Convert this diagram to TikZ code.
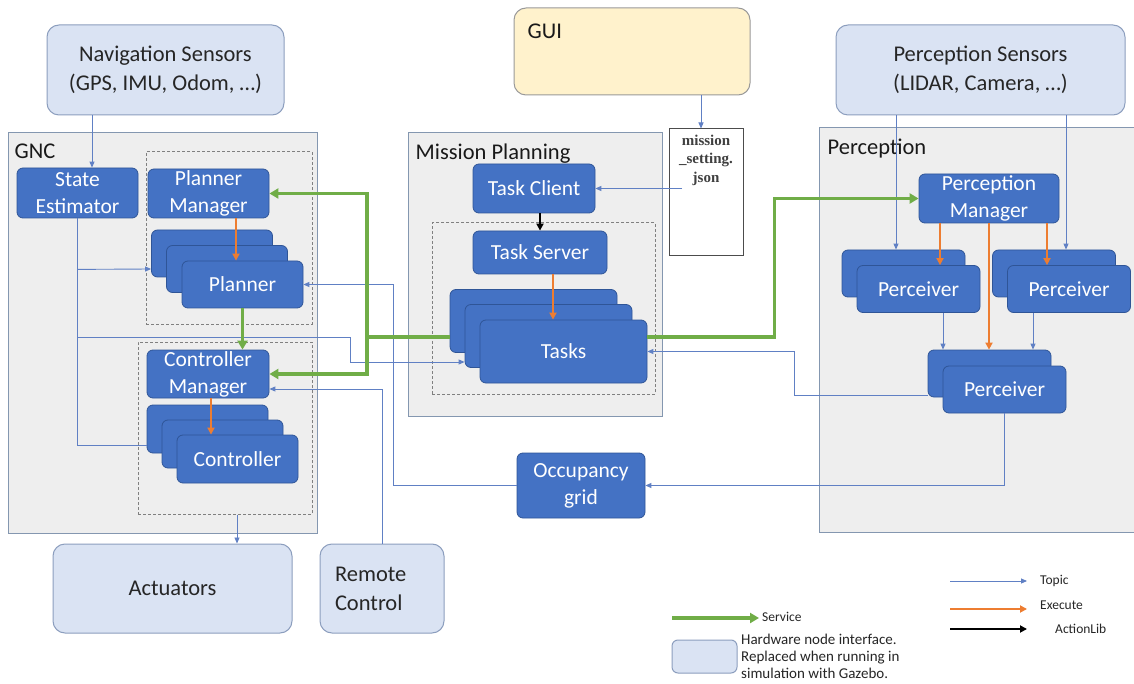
\documentclass[tikz,border=0pt]{standalone}
\usepackage{fontspec}
\setmainfont{Carlito}
\newfontfamily\jsonfont{Liberation Serif}
\usetikzlibrary{arrows.meta}
\usetikzlibrary{positioning}
\definecolor{mblue}{RGB}{68,114,196}
\definecolor{mdblue}{RGB}{47,85,151}
\definecolor{mlight}{RGB}{218,227,243}
\definecolor{mlborder}{RGB}{140,158,190}
\definecolor{mgray}{RGB}{238,238,238}
\definecolor{mgborder}{RGB}{132,151,176}
\definecolor{myellow}{RGB}{255,242,204}
\definecolor{mgreen}{RGB}{112,173,71}
\definecolor{morange}{RGB}{237,125,49}
\definecolor{mtopic}{RGB}{96,128,196}
\tikzset{sz/.style 2 args = {minimum width=#1, minimum height=#2}}
\tikzset{blk/.style = {draw=mdblue, fill=mblue, rounded corners=6, text=white,
                       font=\fontsize{21.5}{27}\selectfont, align=center,
                       inner sep=0, line width=0.8}}
\tikzset{hw/.style = {draw=mlborder, fill=mlight, rounded corners=12, text=black!85,
                      font=\fontsize{22.5}{29}\selectfont, align=center,
                      inner sep=0, line width=1}}
\tikzset{grp/.style = {draw=mgborder, fill=mgray, inner sep=0, line width=1}}
\tikzset{dgrp/.style = {draw=black!50, dash pattern=on 3pt off 2pt, inner sep=0, line width=1}}
\tikzset{grplbl/.style = {font=\fontsize{22.5}{26}\selectfont, text=black!90, inner sep=2}}
\tikzset{lgd/.style = {font=\fontsize{13.5}{17}\selectfont, text=black!85, inner sep=3, align=left}}
\tikzset{topic/.style = {draw=mtopic, line width=0.9, -{Triangle[length=6pt,width=5pt]}}}
\tikzset{topicplain/.style = {draw=mtopic, line width=0.9}}
\tikzset{execute/.style = {draw=morange, line width=2.5, -{Triangle[length=7pt,width=7pt]}}}
\tikzset{service/.style = {draw=mgreen, line width=3.5, -{Triangle[length=9pt,width=10pt]}}}
\tikzset{action/.style = {draw=black, line width=2.2, -{Triangle[length=7pt,width=7pt]}}}

\begin{document}
\begin{tikzpicture}[x=1pt, y=-1pt]
      \useasboundingbox (0,0) rectangle (1134,684);
      \fill [white] (0,0) rectangle (1134,684);

      % outside world
      \node [hw, sz={237}{90}] (navs) at (165.5,70) {Navigation Sensors\\(GPS, IMU, Odom, …)};
      \node [hw, fill=myellow, draw=black!40, sz={236}{87}] (gui) at (632,51.5) {};
      \node [grplbl, anchor=north west] (guilbl) at ([xshift=12,yshift=-14]gui.north west) {GUI};
      \node [hw, sz={289}{90}] (percs) at (980.5,70) {Perception Sensors\\(LIDAR, Camera, …)};

      % groups
      \node [grp, sz={309}{400}] (gnc) at (162.5,333) {};
      \node [grp, sz={254}{283}] (mp) at (535,274.5) {};
      \node [grp, sz={330}{404}] (perc) at (984,330) {};
      \node [grplbl, anchor=north west] (gnclbl) at ([xshift=5,yshift=-9]gnc.north west) {GNC};
      \node [grplbl, anchor=north west] (mplbl) at ([xshift=6,yshift=-9]mp.north west) {Mission Planning};
      \node [grplbl, anchor=north west] (perclbl) at ([xshift=7,yshift=-9]perc.north west) {Perception};

      \node [dgrp, sz={166}{172}] (plgrp) at (229,238) {};
      \node [dgrp, sz={174}{172}] (ctgrp) at (225,428) {};
      \node [dgrp, sz={223}{171}] (tsgrp) at (543.5,308.5) {};

      % GNC
      \node [blk, sz={121}{50}] (se) at (77.5,193) {State\\Estimator};
      \node [blk, sz={121}{49}] (pm) at (208.5,193.5) {Planner\\Manager};
      \node [blk, sz={121}{47}] (pl1) at (212,253.5) {};
      \node [blk, sz={121}{47}] (pl2) at (227,269) {};
      \node [blk, sz={121}{47}] (pl) at (242.5,284.5) {Planner};
      \node [blk, sz={122}{48}] (cm) at (208,374) {Controller\\Manager};
      \node [blk, sz={121}{48}] (ct1) at (207.5,429) {};
      \node [blk, sz={121}{48}] (ct2) at (222.5,444) {};
      \node [blk, sz={121}{48}] (ct) at (237.5,459) {Controller};

      % mission planning
      \node [blk, sz={122}{49}] (tc) at (534,188.5) {Task Client};
      \node [blk, sz={134}{43}] (ts) at (540,252.5) {Task Server};
      \node [blk, sz={167}{63}] (tk1) at (533.5,321) {};
      \node [blk, sz={167}{63}] (tk2) at (548.5,336) {};
      \node [blk, sz={167}{63}] (tk) at (563.5,351.5) {Tasks};
      \node [draw=black!70, fill=white, line width=1, sz={74}{127}, inner sep=0,
             label={[anchor=north, yshift=-4, inner sep=2, align=center, text=black!75,
                     font=\jsonfont\bfseries\fontsize{15}{18.5}\selectfont]north:mission\\\_setting.\\json}]
             (json) at (706,192.5) {};
      \coordinate (jsonout) at (682,188.5);

      % perception
      \node [blk, sz={140}{49}] (pcm) at (989,198.5) {Perception\\Manager};
      \node [blk, sz={123}{47}] (pv1a) at (903.5,273.5) {};
      \node [blk, sz={123}{47}] (pv1) at (918.5,289) {Perceiver};
      \node [blk, sz={123}{47}] (pv2a) at (1054,273.5) {};
      \node [blk, sz={123}{47}] (pv2) at (1069,289) {Perceiver};
      \node [blk, sz={123}{47}] (pv3a) at (989.5,373.5) {};
      \node [blk, sz={123}{47}] (pv3) at (1004.5,389.5) {Perceiver};

      \node [blk, sz={128}{65}] (og) at (581,485.5) {Occupancy\\grid};
      \node [hw, sz={239}{89}] (act) at (172.5,588.5) {Actuators};
      \node [hw, sz={124}{89}, text width=94, align=left] (rc) at (382,588.5) {Remote\\Control};

      % topics
      \draw [topic] ([xshift=-73.5]navs.south) -- ([xshift=-73.5]navs.south |- se.north);
      \draw [topicplain] (se.south) |- ([yshift=-16]ct1.west);
      \draw [topic] ([yshift=-51]se.south) -- ([yshift=-15.5]pl1.west);
      \draw [topic] ([yshift=-119]se.south) -- ++(273,0) |- ([yshift=-26]tk2.west);
      \draw [topic] ([xshift=12]ctgrp.south) -- ([xshift=12]ctgrp.south |- act.north);
      \draw [topic] (rc.north) |- ([yshift=-15]cm.east);
      \draw [topic] (og.west) -- ++(-123,0) |- (pl.east);
      \draw [topic] (pv3.south) |- (og.east);
      \draw [topic] ([yshift=-21.5]pv3a.west) -- ++(-133,0) |- (tk.east);
      \draw [topic] ([xshift=-5]json.north |- gui.south) -- ([xshift=-5]json.north);
      \draw [topic] (jsonout) -- (tc.east);
      \draw [topic] ([xshift=-84.5]percs.south) -- ([xshift=-84.5]percs.south |- pv1a.north);
      \draw [topic] ([xshift=85.5]percs.south) -- ([xshift=85.5]percs.south |- pv2a.north);
      \draw [topic] ([xshift=24.5]pv1.south) -- ([xshift=24.5]pv1.south |- pv3a.north);
      \draw [topic] ([xshift=-36]pv2.south) -- ([xshift=-36]pv2.south |- pv3a.north);

      % execute
      \draw [execute] ([xshift=27.5]pm.south) -- ([xshift=27.5]pm.south |- pl.north);
      \draw [execute] ([xshift=3]cm.south) -- ([xshift=3]cm.south |- ct.north);
      \draw [execute] ([xshift=13]ts.south) -- ([xshift=13]ts.south |- tk.north);
      \draw [execute] ([xshift=-49]pcm.south) -- ([xshift=-49]pcm.south |- pv1.north);
      \draw [execute] ([xshift=58]pcm.south) -- ([xshift=58]pcm.south |- pv2.north);
      \draw [execute] (pcm.south) -- (pcm.south |- pv3a.north);

      % actionlib
      \draw [action] (tc.south -| ts.north) -- (ts.north);

      % services
      \coordinate (svc) at (367,337);
      \draw [service] ([yshift=-16]tk1.west) -- (svc) |- (pm.east);
      \draw [service] (svc) |- (cm.east);
      \draw [service] (pl.south) -- (pl.south |- cm.north);
      \draw [service] ([yshift=14.5]tk.east) -- ++(127,0) |- (pcm.west);

      % legend
      \coordinate (lt0) at (950,581);
      \node [lgd, anchor=west] (ltopic) at (1037,581) {Topic};
      \draw [topic] (lt0) -- ([xshift=-10]ltopic.west);
      \coordinate (le0) at (950,609);
      \node [lgd, anchor=west] (lexec) at (1037,605) {Execute};
      \draw [execute] (le0) -- ([xshift=-10,yshift=-4]lexec.west);
      \coordinate (la0) at (950,629);
      \node [lgd, anchor=west] (lact) at (1052,629) {ActionLib};
      \draw [action] (la0) -- ([xshift=-25]lact.west);
      \coordinate (ls0) at (672,618);
      \node [lgd, anchor=west] (lserv) at (759,617) {Service};
      \draw [service] (ls0) -- ([yshift=-1]lserv.west);
      \node [hw, rounded corners=6, sz={65}{33}] (lhw) at (704.5,656.5) {};
      \node [lgd, anchor=north west, font=\fontsize{15}{17}\selectfont] (lhwtxt) at (738,631) {Hardware node interface.\\Replaced when running in\\simulation with Gazebo.};
\end{tikzpicture}
\end{document}
